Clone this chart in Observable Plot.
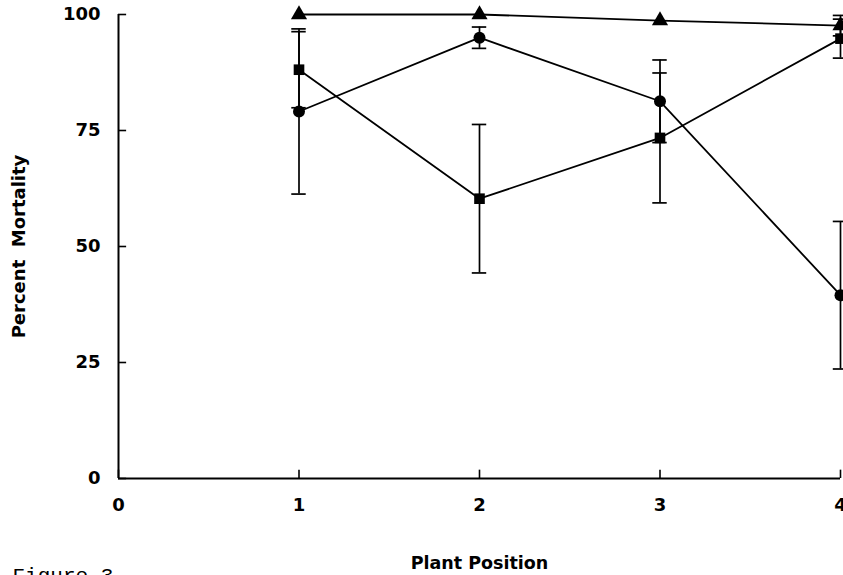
<!DOCTYPE html>
<html>
<head>
<meta charset="utf-8">
<script src="https://cdn.jsdelivr.net/npm/d3@7"></script>
<script src="https://cdn.jsdelivr.net/npm/@observablehq/plot@0.6"></script>
<style>
  html, body { margin: 0; padding: 0; background: #fff; overflow: hidden; }
  #chart svg { display: block; }
</style>
</head>
<body>
<div id="chart"></div>
<script>
const positions = [1, 2, 3, 4];
const triangleMean = [100, 100, 98.7, 97.6];
const triangleErr = [0, 0, 0, 2.2];
const circleMean = [79.1, 95.0, 81.3, 39.5];
const circleErr = [17.8, 2.3, 8.9, 15.9];
const squareMean = [88.1, 60.3, 73.4, 94.8];
const squareErr = [8.2, 16.0, 14.0, 4.2];
const xTicks = [0, 1, 2, 3, 4];
const yTicks = [0, 25, 50, 75, 100];

const seriesDefs = [
  {name: "triangle", mean: triangleMean, err: triangleErr},
  {name: "circle", mean: circleMean, err: circleErr},
  {name: "square", mean: squareMean, err: squareErr}
];
const rows = seriesDefs.flatMap(s => positions.map((p, i) => ({
  series: s.name, symbol: s.name, x: p, y: s.mean[i],
  lo: s.mean[i] - s.err[i], hi: s.mean[i] + s.err[i], err: s.err[i]
})));
const errRows = rows.filter(d => d.err > 0);
const capHalf = 0.04;

const font = "'DejaVu Sans', Verdana, sans-serif";

const chart = Plot.plot({
  width: 843,
  height: 575,
  marginTop: 14,
  marginBottom: 97,
  marginLeft: 118,
  marginRight: 3,
  style: {fontFamily: font, fontSize: "18px", fontWeight: "bold", color: "#000", background: "#fff", overflow: "visible"},
  x: {domain: [0, 4]},
  y: {domain: [0, 100]},
  symbol: {domain: ["triangle", "circle", "square"], range: ["triangle", "circle", "square"]},
  marks: [
    Plot.axisX({ticks: xTicks, tickSize: 0, tickPadding: 20, tickFormat: d3.format("d"),
      label: null, fontSize: 18}),
    Plot.axisY({ticks: yTicks, tickSize: 0, tickPadding: 18, tickFormat: d3.format("d"),
      label: null, fontSize: 18}),
    Plot.text(["Plant Position"], {frameAnchor: "bottom", dy: 85, lineAnchor: "middle",
      fontSize: 17.5, fontWeight: "bold", fontFamily: font}),
    Plot.text(["Percent  Mortality"], {frameAnchor: "left", dx: -99, rotate: -90, textAnchor: "middle", lineAnchor: "middle",
      fontSize: 18, fontWeight: "bold", fontFamily: font, style: "white-space: pre; word-spacing: 8px"}),
    Plot.ruleY(yTicks, {y: d => d, x1: 0, x2: 0.045, stroke: "#000", strokeWidth: 1.6}),
    Plot.ruleX(xTicks, {x: d => d, y1: 0, y2: 1.8, stroke: "#000", strokeWidth: 1.6}),
    Plot.ruleX([0], {stroke: "#000", strokeWidth: 2}),
    Plot.ruleY([0], {stroke: "#000", strokeWidth: 2}),
    Plot.ruleX(errRows, {x: "x", y1: "lo", y2: "hi", stroke: "#000", strokeWidth: 1.7}),
    Plot.ruleY(errRows, {y: "hi", x1: d => d.x - capHalf, x2: d => d.x + capHalf, stroke: "#000", strokeWidth: 1.7}),
    Plot.ruleY(errRows, {y: "lo", x1: d => d.x - capHalf, x2: d => d.x + capHalf, stroke: "#000", strokeWidth: 1.7}),
    Plot.line(rows, {x: "x", y: "y", z: "series", stroke: "#000", strokeWidth: 1.8}),
    Plot.dot(rows, {x: "x", y: "y", symbol: "symbol", fill: "#000", stroke: "none", r: 6}),
    Plot.text(["Figure 3"], {frameAnchor: "bottom-left", dx: -106, dy: 103, textAnchor: "start",
      lineAnchor: "bottom", fontFamily: "'Liberation Mono', 'Courier New', monospace", fontWeight: "normal", fontSize: 21})
  ]
});
document.getElementById("chart").appendChild(chart);
</script>
</body>
</html>
